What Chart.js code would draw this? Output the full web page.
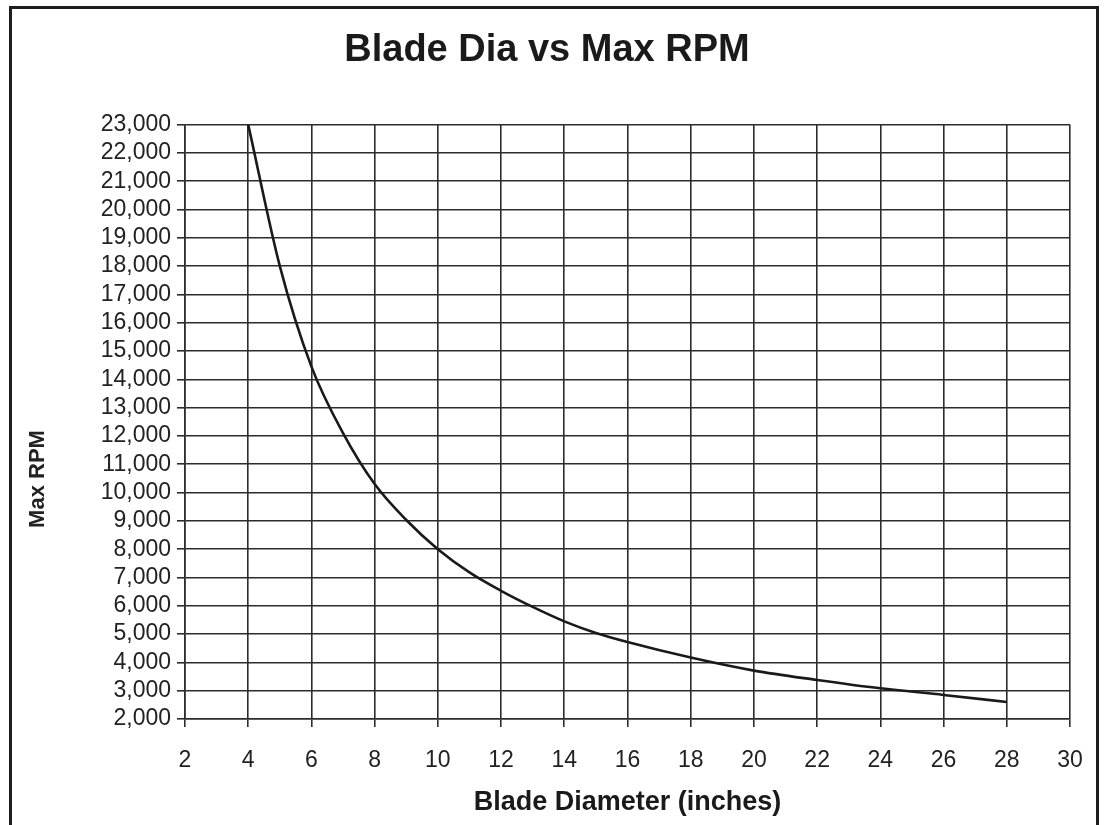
<!DOCTYPE html>
<html>
<head>
<meta charset="utf-8">
<script src="https://cdn.jsdelivr.net/npm/chart.js@4/dist/chart.umd.min.js"></script>
<style>
  html, body { margin: 0; padding: 0; background: #fff; overflow: hidden; }
  #wrap { position: relative; width: 1106px; height: 825px; }
  #frame {
    position: absolute; left: 9px; top: 6px; width: 1090px; height: 900px;
    box-sizing: border-box; border: 3px solid #1e1e1e; pointer-events: none;
  }
</style>
</head>
<body>
<div id="wrap">
  <canvas id="chartRpm"></canvas>
  <div id="frame"></div>
</div>
<script>
// Data
const chartTitle = "Blade Dia vs Max RPM";
const xTitle = "Blade Diameter (inches)";
const yTitle = "Max RPM";
const diameters = [4, 5, 6, 7, 8, 9, 10, 11, 12, 13, 14, 15, 16, 18, 20, 22, 24, 26, 28];
const maxRpm = [23000, 18000, 14450, 12100, 10300, 9030, 8000, 7180, 6530, 5960, 5450, 5040, 4720, 4170, 3710, 3380, 3085, 2850, 2600];
const xTicks = [2, 4, 6, 8, 10, 12, 14, 16, 18, 20, 22, 24, 26, 28, 30];
const yTicks = [2000, 3000, 4000, 5000, 6000, 7000, 8000, 9000, 10000, 11000, 12000,
  13000, 14000, 15000, 16000, 17000, 18000, 19000, 20000, 21000, 22000, 23000];

const plain = "'Liberation Sans', Arial, Helvetica, sans-serif";
const gridColor = "#2c2c2c";
const textColor = "#222";

// rotated y-axis title, placed lower than the axis centre like in the original
const yTitlePlugin = {
  id: "yTitle",
  afterDraw(chart) {
    const ctx = chart.ctx;
    ctx.save();
    ctx.translate(38, 479);
    ctx.rotate(-Math.PI / 2);
    ctx.font = "bold 22px " + plain;
    ctx.fillStyle = textColor;
    ctx.textAlign = "center";
    ctx.textBaseline = "middle";
    ctx.fillText(yTitle, 0, 0);
    ctx.restore();
  }
};

const ctx = document.getElementById("chartRpm").getContext("2d");
new Chart(ctx, {
  type: "line",
  data: {
    datasets: [{
      label: yTitle,
      data: diameters.map((d, i) => ({ x: d, y: maxRpm[i] })),
      borderColor: "#1a1a1a",
      borderWidth: 2.6,
      pointRadius: 0,
      fill: false,
      cubicInterpolationMode: "monotone"
    }]
  },
  options: {
    responsive: true,
    maintainAspectRatio: false,
    animation: false,
    layout: { padding: { left: 24, right: 36, top: 0, bottom: 0 } },
    plugins: {
      legend: { display: false },
      tooltip: { enabled: false },
      title: {
        display: true,
        text: chartTitle,
        color: "#1a1a1a",
        font: { family: plain, size: 38, weight: "bold" },
        padding: { top: 28, bottom: 51 }
      }
    },
    scales: {
      x: {
        type: "linear",
        min: 2,
        max: 30,
        afterBuildTicks(scale) { scale.ticks = xTicks.map(v => ({ value: v })); },
        afterFit(scale) { scale.height = 106; },
        grid: { color: gridColor, lineWidth: 1.6, tickLength: 8, drawTicks: true },
        border: { color: gridColor, width: 1.6 },
        ticks: {
          color: textColor,
          padding: 20,
          maxRotation: 0,
          autoSkip: false,
          font: { family: plain, size: 23 }
        },
        title: {
          display: true,
          text: xTitle,
          color: "#1a1a1a",
          font: { family: plain, size: 27, weight: "bold" },
          padding: { top: 0, bottom: 6 }
        }
      },
      y: {
        type: "linear",
        min: 2000,
        max: 23000,
        afterBuildTicks(scale) { scale.ticks = yTicks.map(v => ({ value: v })); },
        afterFit(scale) { scale.width = 161; },
        grid: { color: gridColor, lineWidth: 1.6, tickLength: 8 },
        border: { color: gridColor, width: 1.6 },
        ticks: {
          color: textColor,
          padding: 6,
          autoSkip: false,
          font: { family: plain, size: 23 },
          callback: v => v.toLocaleString("en-US")
        }
      }
    }
  },
  plugins: [yTitlePlugin]
});
</script>
</body>
</html>
